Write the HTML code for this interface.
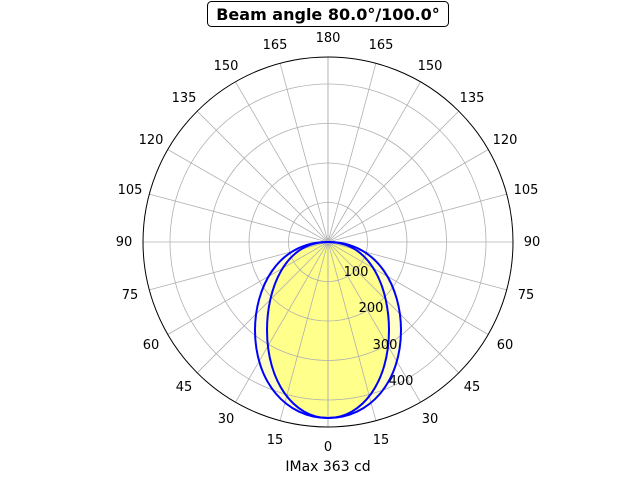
<!DOCTYPE html>
<html><head><meta charset="utf-8"><style>
html,body{margin:0;padding:0;background:#fff;}
svg{display:block;font-family:"DejaVu Sans","Liberation Sans",sans-serif;}
</style></head><body>
<svg width="640" height="480" viewBox="0 0 640 480" xmlns="http://www.w3.org/2000/svg">
<rect width="640" height="480" fill="#fff"/>
<path d="M328,242 C380,242 401,290 401,330 C401,382 370,418 328,418 C286,418 255,382 255,330 C255,290 276,242 328,242Z" fill="#ffff99" fill-opacity="0.55"/>
<path d="M328,242 C372,242 389,290 389,330 C389,382 362,418 328,418 C294,418 267,382 267,330 C267,290 284,242 328,242Z" fill="#ffff80" fill-opacity="0.85"/>
<g stroke="#b0b0b0" stroke-width="0.8" fill="none">
<circle cx="328" cy="242" r="39.5"/>
<circle cx="328" cy="242" r="79"/>
<circle cx="328" cy="242" r="118.5"/>
<circle cx="328" cy="242" r="158"/>
<g id="sp">
<line x1="328" y1="242" x2="328" y2="427"/>
<line x1="328" y1="242" x2="375.9" y2="420.7"/>
<line x1="328" y1="242" x2="420.5" y2="402.2"/>
<line x1="328" y1="242" x2="458.8" y2="372.8"/>
<line x1="328" y1="242" x2="488.2" y2="334.5"/>
<line x1="328" y1="242" x2="506.7" y2="289.9"/>
<line x1="328" y1="242" x2="513" y2="242"/>
<line x1="328" y1="242" x2="506.7" y2="194.1"/>
<line x1="328" y1="242" x2="488.2" y2="149.5"/>
<line x1="328" y1="242" x2="458.8" y2="111.2"/>
<line x1="328" y1="242" x2="420.5" y2="81.8"/>
<line x1="328" y1="242" x2="375.9" y2="63.3"/>
<line x1="328" y1="242" x2="328" y2="57"/>
</g>
<use href="#sp" transform="translate(656,0) scale(-1,1)"/>
</g>
<path d="M328,242 C380,242 401,290 401,330 C401,382 370,418 328,418 C286,418 255,382 255,330 C255,290 276,242 328,242Z" fill="none" stroke="#0000ff" stroke-width="2"/>
<path d="M328,242 C372,242 389,290 389,330 C389,382 362,418 328,418 C294,418 267,382 267,330 C267,290 284,242 328,242Z" fill="none" stroke="#0000ff" stroke-width="2"/>
<circle cx="328" cy="242" r="185" fill="none" stroke="#000" stroke-width="1"/>
<g font-size="13" fill="#000" text-anchor="middle">
<text x="328" y="451">0</text>
<text x="275" y="444">15</text><text x="381" y="444">15</text>
<text x="226" y="423">30</text><text x="430" y="423">30</text>
<text x="184" y="391">45</text><text x="472" y="391">45</text>
<text x="151" y="349">60</text><text x="505" y="349">60</text>
<text x="130" y="299">75</text><text x="526" y="299">75</text>
<text x="124" y="246">90</text><text x="532" y="246">90</text>
<text x="130" y="194">105</text><text x="526" y="194">105</text>
<text x="151" y="144">120</text><text x="505" y="144">120</text>
<text x="184" y="102">135</text><text x="472" y="102">135</text>
<text x="226" y="70">150</text><text x="430" y="70">150</text>
<text x="275" y="49">165</text><text x="381" y="49">165</text>
<text x="328" y="42">180</text>
<text x="356" y="276">100</text>
<text x="371" y="312">200</text>
<text x="385" y="349">300</text>
<text x="401" y="385">400</text>
</g>
<rect x="207.5" y="1.5" width="241" height="25" rx="4" fill="#fff" stroke="#000" stroke-width="1"/>
<text x="328" y="20" font-size="16" font-weight="bold" text-anchor="middle">Beam angle 80.0°/100.0°</text>
<text x="328" y="471" font-size="14" text-anchor="middle">IMax 363 cd</text>
</svg>
</body></html>
